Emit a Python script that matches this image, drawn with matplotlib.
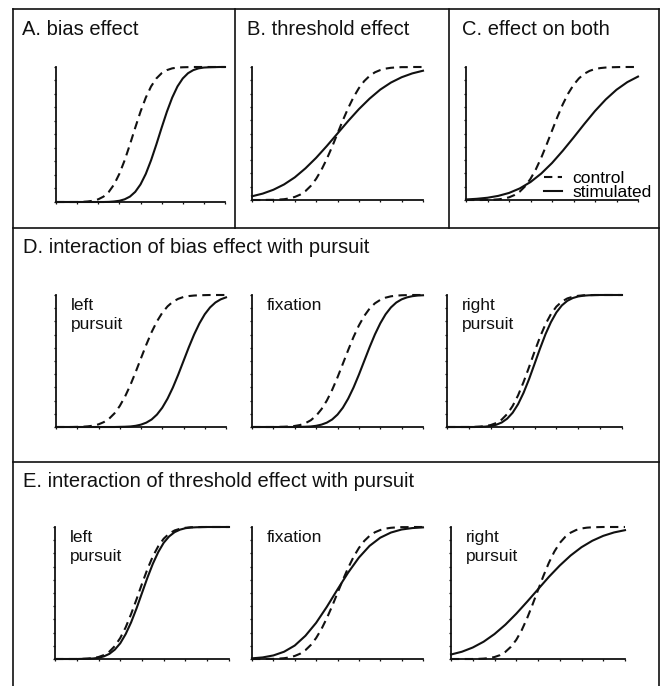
import matplotlib
matplotlib.use("Agg")
import matplotlib.pyplot as plt
from matplotlib.lines import Line2D

plt.rcParams['font.family'] = ['Liberation Sans', 'DejaVu Sans']

# ---------------- data ----------------
# stimulus axis samples: fine grid for the steep curves, coarse grid for the shallow ones
x_fine = [0, 0.25, 0.5, 0.75, 1, 1.25, 1.5, 1.75, 2, 2.25, 2.5, 2.75, 3, 3.25, 3.5, 3.75,
          4, 4.25, 4.5, 4.75, 5, 5.25, 5.5, 5.75, 6, 6.25, 6.5, 6.75, 7, 7.25, 7.5, 7.75, 8]
x_coarse = [0, 0.5, 1, 1.5, 2, 2.5, 3, 3.5, 4, 4.5, 5, 5.5, 6, 6.5, 7, 7.5, 8]

# A. bias effect (fine grid)
a_control = [0, 0, 0, 0, 0, 0.001, 0.004, 0.009, 0.020, 0.040, 0.075, 0.130, 0.209, 0.309, 0.426, 0.550,
             0.669, 0.773, 0.856, 0.915, 0.954, 0.977, 0.990, 0.996, 0.998, 0.999, 1, 1, 1, 1, 1, 1, 1]
a_stim = [0, 0, 0, 0, 0, 0, 0, 0, 0, 0, 0.001, 0.004, 0.009, 0.020, 0.040, 0.075,
          0.130, 0.208, 0.309, 0.426, 0.550, 0.669, 0.773, 0.856, 0.915, 0.954, 0.977, 0.990, 0.996, 0.998, 0.999, 1, 1]
# B. threshold effect (control fine, stimulated coarse)
b_control = [0, 0, 0, 0.001, 0.001, 0.003, 0.006, 0.012, 0.023, 0.040, 0.067, 0.106, 0.159, 0.227, 0.309, 0.401,
             0.5, 0.599, 0.691, 0.773, 0.841, 0.894, 0.933, 0.960, 0.977, 0.988, 0.994, 0.997, 0.999, 0.999, 1, 1, 1]
b_stim = [0.028, 0.048, 0.077, 0.117, 0.17, 0.238, 0.317, 0.406, 0.5, 0.594, 0.683, 0.762, 0.83, 0.883, 0.923, 0.952, 0.972]
# C. effect on both (control fine, stimulated coarse)
c_control = [0, 0, 0, 0, 0.001, 0.002, 0.005, 0.010, 0.020, 0.037, 0.063, 0.103, 0.159, 0.231, 0.318, 0.417,
             0.521, 0.624, 0.719, 0.800, 0.865, 0.914, 0.949, 0.971, 0.985, 0.992, 0.996, 0.998, 0.999, 1, 1, 1, 1]
c_stim = [0.004, 0.009, 0.017, 0.031, 0.053, 0.087, 0.135, 0.199, 0.278, 0.37, 0.469, 0.571, 0.669, 0.756, 0.829, 0.886, 0.928]

# D. bias effect x pursuit (fine grid)
d_left_control = [0, 0, 0, 0, 0.001, 0.002, 0.005, 0.010, 0.020, 0.037, 0.063, 0.103, 0.159, 0.231, 0.318, 0.417,
                  0.521, 0.624, 0.719, 0.800, 0.865, 0.914, 0.949, 0.971, 0.985, 0.992, 0.996, 0.998, 0.999, 1, 1, 1, 1]
d_left_stim = [0, 0, 0, 0, 0, 0, 0, 0, 0, 0, 0, 0, 0.001, 0.002, 0.004, 0.009,
               0.018, 0.033, 0.057, 0.094, 0.146, 0.215, 0.299, 0.396, 0.5, 0.604, 0.701, 0.785, 0.854, 0.906, 0.943, 0.967, 0.982]
d_fix_control = [0, 0, 0, 0, 0, 0.001, 0.002, 0.004, 0.008, 0.015, 0.029, 0.051, 0.085, 0.135, 0.200, 0.281,
                 0.376, 0.479, 0.583, 0.682, 0.769, 0.841, 0.897, 0.937, 0.963, 0.980, 0.990, 0.995, 0.998, 0.999, 1, 1, 1]
d_fix_stim = [0, 0, 0, 0, 0, 0, 0, 0, 0, 0.001, 0.002, 0.004, 0.009, 0.018, 0.033, 0.057,
              0.094, 0.146, 0.215, 0.299, 0.396, 0.5, 0.604, 0.701, 0.785, 0.854, 0.906, 0.943, 0.967, 0.982, 0.991, 0.996, 0.998]
d_right_control = [0, 0, 0, 0, 0, 0.001, 0.003, 0.007, 0.015, 0.030, 0.056, 0.098, 0.159, 0.240, 0.341, 0.453,
                   0.570, 0.681, 0.778, 0.855, 0.912, 0.950, 0.974, 0.987, 0.994, 0.998, 0.999, 1, 1, 1, 1, 1, 1]
d_right_stim = [0, 0, 0, 0, 0, 0, 0.001, 0.003, 0.008, 0.017, 0.034, 0.063, 0.108, 0.173, 0.259, 0.362,
                0.477, 0.593, 0.702, 0.794, 0.868, 0.921, 0.956, 0.977, 0.989, 0.995, 0.998, 0.999, 1, 1, 1, 1, 1]

# E. threshold effect x pursuit
e_left_control = [0, 0, 0, 0, 0, 0.001, 0.003, 0.007, 0.015, 0.030, 0.056, 0.098, 0.159, 0.240, 0.341, 0.453,
                  0.570, 0.681, 0.778, 0.855, 0.912, 0.950, 0.974, 0.987, 0.994, 0.998, 0.999, 1, 1, 1, 1, 1, 1]
e_left_stim = [0, 0, 0, 0, 0, 0.001, 0.002, 0.004, 0.009, 0.020, 0.039, 0.071, 0.119, 0.189, 0.278, 0.384,
               0.5, 0.616, 0.722, 0.811, 0.881, 0.929, 0.961, 0.980, 0.991, 0.996, 0.998, 0.999, 1, 1, 1, 1, 1]
e_fix_control = [0, 0, 0, 0.001, 0.001, 0.003, 0.006, 0.012, 0.023, 0.040, 0.067, 0.106, 0.159, 0.227, 0.309, 0.401,
                 0.5, 0.599, 0.691, 0.773, 0.841, 0.894, 0.933, 0.960, 0.977, 0.988, 0.994, 0.997, 0.999, 0.999, 1, 1, 1]
e_fix_stim = [0.005, 0.012, 0.027, 0.055, 0.102, 0.176, 0.274, 0.395, 0.527, 0.655, 0.768, 0.857, 0.919, 0.958, 0.981, 0.992, 0.997]
e_right_control = [0, 0, 0, 0, 0, 0.001, 0.003, 0.007, 0.015, 0.029, 0.054, 0.092, 0.145, 0.218, 0.309, 0.413,
                   0.522, 0.630, 0.729, 0.813, 0.879, 0.925, 0.957, 0.977, 0.989, 0.995, 0.998, 0.999, 1, 1, 1, 1, 1]
e_right_stim = [0.034, 0.055, 0.087, 0.131, 0.189, 0.26, 0.343, 0.434, 0.528, 0.622, 0.708, 0.784, 0.847, 0.896, 0.933, 0.959, 0.976]

panel_titles = ["A. bias effect", "B. threshold effect", "C. effect on both"]
row_titles = ["D. interaction of bias effect with pursuit",
              "E. interaction of threshold effect with pursuit"]
condition_labels = ["left\npursuit", "fixation", "right\npursuit"]
legend_labels = ["control", "stimulated"]

# ---------------- figure ----------------
W, H = 666, 686
fig = plt.figure(figsize=(W / 100, H / 100), dpi=100)
fig.patch.set_facecolor('white')

INK = '#111111'


def px_axes(l, t, r, b):
    return fig.add_axes([l / W, 1 - b / H, (r - l) / W, (b - t) / H])


def style(ax):
    ax.set_xlim(0, 8)
    ax.set_ylim(0, 1)
    for s in ('top', 'right'):
        ax.spines[s].set_visible(False)
    for s in ('left', 'bottom'):
        ax.spines[s].set_linewidth(1.3)
        ax.spines[s].set_color(INK)
    ax.set_xticks(range(0, 9))
    ax.set_yticks([i / 10 for i in range(11)])
    ax.tick_params(direction='out', length=1.6, width=0.9, color=INK,
                   labelbottom=False, labelleft=False)
    ax.patch.set_alpha(0)


def grid_for(vals):
    return x_fine if len(vals) == len(x_fine) else x_coarse


def draw(ax, ctrl, stim):
    ax.plot(grid_for(stim), stim, color=INK, lw=1.5, solid_joinstyle='round',
            clip_on=False, zorder=3)
    ax.plot(grid_for(ctrl), ctrl, color=INK, lw=1.5, dashes=(4, 2.6),
            dash_joinstyle='round', clip_on=False, zorder=4)


# top row
axA = px_axes(56, 67, 225, 202)
axB = px_axes(252, 67, 423, 200)
axC = px_axes(466, 67, 638, 200)
for ax, c, s in [(axA, a_control, a_stim), (axB, b_control, b_stim), (axC, c_control, c_stim)]:
    style(ax)
    draw(ax, c, s)

leg_handles = [Line2D([], [], color=INK, lw=1.5, dashes=(4, 2.6)),
               Line2D([], [], color=INK, lw=1.5)]
axC.legend(leg_handles, legend_labels, loc='lower left', bbox_to_anchor=(0.455, 0.0),
           frameon=False, handlelength=1.0, handletextpad=0.6, labelspacing=-0.05,
           borderpad=0, borderaxespad=0, fontsize=12.5)

# row D
d_axes = [px_axes(56, 295, 226, 427), px_axes(252, 295, 423, 427), px_axes(447, 295, 622, 427)]
d_data = [(d_left_control, d_left_stim), (d_fix_control, d_fix_stim), (d_right_control, d_right_stim)]
# row E
e_axes = [px_axes(55, 527, 229, 659), px_axes(252, 527, 423, 659), px_axes(451, 527, 625, 659)]
e_data = [(e_left_control, e_left_stim), (e_fix_control, e_fix_stim), (e_right_control, e_right_stim)]

for axes, data in [(d_axes, d_data), (e_axes, e_data)]:
    for ax, (c, s), lab in zip(axes, data, condition_labels):
        style(ax)
        draw(ax, c, s)
        ax.text(0.085, 0.975, lab, transform=ax.transAxes, ha='left', va='top',
                fontsize=12.5, color=INK, linespacing=1.3)

# titles
for xp, t in zip([22, 247, 462], panel_titles):
    fig.text(xp / W, 1 - 35 / H, t, fontsize=14.5, color=INK, ha='left', va='baseline')
fig.text(23 / W, 1 - 253 / H, row_titles[0], fontsize=14.5, color=INK, ha='left', va='baseline')
fig.text(23 / W, 1 - 487 / H, row_titles[1], fontsize=14.5, color=INK, ha='left', va='baseline')


# frame lines
def fline(x0, y0, x1, y1):
    fig.add_artist(Line2D([x0 / W, x1 / W], [1 - y0 / H, 1 - y1 / H], color=INK, lw=1.2,
                          transform=fig.transFigure, solid_capstyle='projecting'))


fline(13, 9, 13, 686)
fline(659, 9, 659, 686)
fline(13, 9, 659, 9)
fline(13, 228, 659, 228)
fline(13, 462, 659, 462)
fline(235, 9, 235, 228)
fline(449, 9, 449, 228)

fig.savefig('out.png', dpi=100, facecolor='white')
